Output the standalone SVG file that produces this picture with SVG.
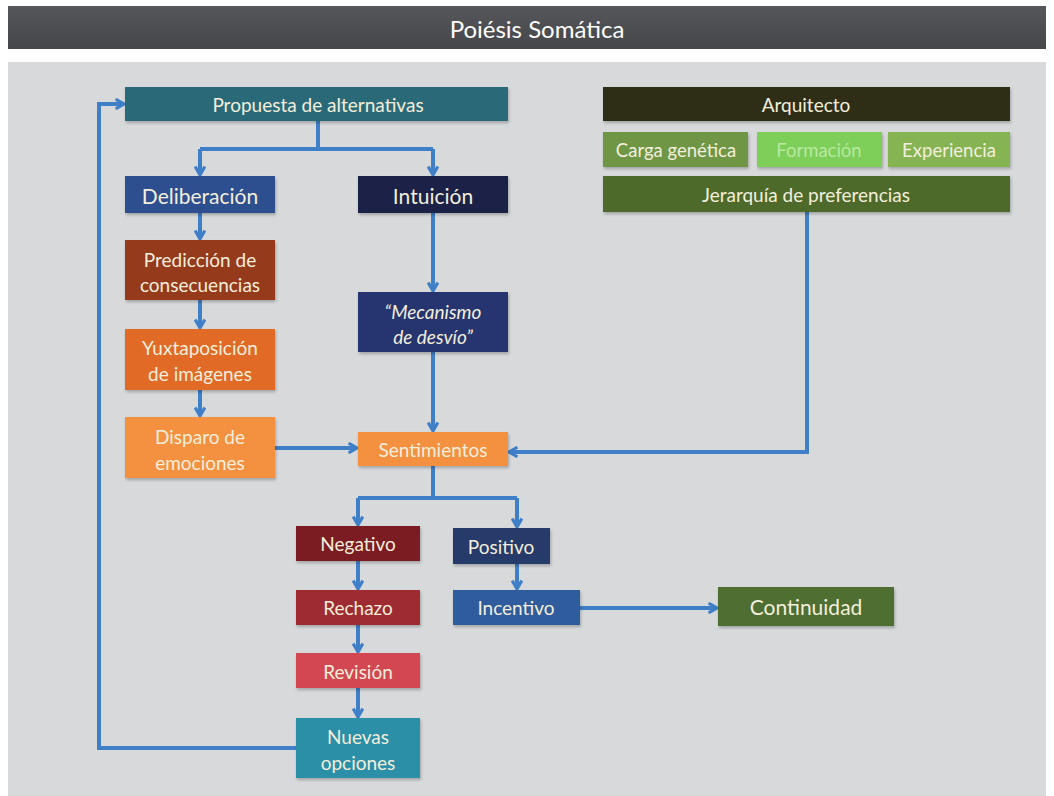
<svg xmlns="http://www.w3.org/2000/svg" width="1054" height="796" viewBox="0 0 1054 796">
<defs>
<linearGradient id="tb" x1="0" y1="0" x2="0" y2="1"><stop offset="0" stop-color="#55575b"/><stop offset="1" stop-color="#45464a"/></linearGradient>
<filter id="sh" x="-10%" y="-20%" width="130%" height="150%"><feDropShadow dx="1" dy="2" stdDeviation="1.5" flood-color="#000" flood-opacity="0.25"/></filter>
<marker id="ar" viewBox="0 0 10 10" refX="8" refY="5" markerWidth="12" markerHeight="12" markerUnits="userSpaceOnUse" orient="auto"><path d="M1,1 L8,5 L1,9" fill="none" stroke="#3f7fc8" stroke-width="2.6" stroke-linejoin="miter"/></marker>
<style>
.n rect{filter:url(#sh)}
.t{font-family:Lato,"Liberation Sans",sans-serif;font-size:19px;fill:#f3eedc;text-anchor:middle;dominant-baseline:central}
.big{font-size:21px}
.sm{font-size:18.5px}
.c path{fill:none;stroke:#3f7fc8;stroke-width:4}
.c .a{marker-end:url(#ar)}
</style>
</defs>
<rect x="0" y="0" width="1054" height="796" fill="#ffffff"/>
<rect x="8" y="6" width="1038" height="43" fill="url(#tb)"/>
<text x="537" y="28" font-family="Lato,'Liberation Sans',sans-serif" font-size="24" fill="#ffffff" text-anchor="middle" dominant-baseline="central">Poiésis Somática</text>
<rect x="8" y="62" width="1038" height="734" fill="#d7d9db"/>

<g class="c">
<path d="M318,121 V149 M200,149 H433"/>
<path class="a" d="M200,149 V175"/>
<path class="a" d="M433,149 V175"/>
<path class="a" d="M200,213 V239"/>
<path class="a" d="M200,300 V328"/>
<path class="a" d="M200,390 V416"/>
<path class="a" d="M433,213 V291"/>
<path class="a" d="M433,352 V431"/>
<path class="a" d="M275,448 H357"/>
<path class="a" d="M807,212 V452 H509"/>
<path d="M433,466 V498 M358,498 H517"/>
<path class="a" d="M358,498 V525"/>
<path class="a" d="M517,498 V527"/>
<path class="a" d="M358,561 V589"/>
<path class="a" d="M358,625 V652"/>
<path class="a" d="M358,688 V717"/>
<path class="a" d="M517,564 V589"/>
<path class="a" d="M580,608 H717"/>
<path class="a" d="M296,748 H99 V104 H124"/>
</g>

<g id="propuesta" class="n"><rect x="125" y="87" width="383" height="34" fill="#2a6b78"/><text class="t" x="318" y="104">Propuesta de alternativas</text></g>
<g id="deliberacion" class="n"><rect x="125" y="176" width="150" height="37" fill="#2f4f8f"/><text class="t big" x="200" y="195">Deliberación</text></g>
<g id="intuicion" class="n"><rect x="358" y="176" width="150" height="37" fill="#1f2347"/><text class="t big" x="433" y="195">Intuición</text></g>
<g id="prediccion" class="n"><rect x="125" y="240" width="150" height="60" fill="#953a1e"/><text class="t" x="200" y="259">Predicción de</text><text class="t" x="200" y="284">consecuencias</text></g>
<g id="yuxtaposicion" class="n"><rect x="125" y="329" width="150" height="61" fill="#e06a25"/><text class="t" x="200" y="347">Yuxtaposición</text><text class="t" x="200" y="373">de imágenes</text></g>
<g id="disparo" class="n"><rect x="125" y="417" width="150" height="61" fill="#f4913f"/><text class="t" x="200" y="436">Disparo de</text><text class="t" x="200" y="462">emociones</text></g>
<g id="mecanismo" class="n"><rect x="358" y="292" width="150" height="60" fill="#283670"/><text class="t" x="433" y="311" font-style="italic">“Mecanismo</text><text class="t" x="433" y="336" font-style="italic">de desvío”</text></g>
<g id="sentimientos" class="n"><rect x="358" y="432" width="150" height="34" fill="#f4913f"/><text class="t" x="433" y="449">Sentimientos</text></g>
<g id="negativo" class="n"><rect x="296" y="526" width="124" height="35" fill="#7a1c24"/><text class="t" x="358" y="543">Negativo</text></g>
<g id="positivo" class="n"><rect x="453" y="528" width="97" height="36" fill="#283a6b"/><text class="t" x="501" y="546">Positivo</text></g>
<g id="rechazo" class="n"><rect x="296" y="590" width="124" height="35" fill="#9e2a33"/><text class="t" x="358" y="607">Rechazo</text></g>
<g id="incentivo" class="n"><rect x="453" y="590" width="127" height="35" fill="#2e5b9c"/><text class="t" x="516" y="607">Incentivo</text></g>
<g id="revision" class="n"><rect x="296" y="653" width="124" height="35" fill="#d24751"/><text class="t" x="358" y="671">Revisión</text></g>
<g id="nuevas" class="n"><rect x="296" y="718" width="124" height="60" fill="#2a8fa7"/><text class="t" x="358" y="736">Nuevas</text><text class="t" x="358" y="762">opciones</text></g>
<g id="continuidad" class="n"><rect x="718" y="587" width="176" height="39" fill="#4f6e30"/><text class="t big" x="806" y="606">Continuidad</text></g>
<g id="arquitecto" class="n"><rect x="603" y="87" width="407" height="34" fill="#2f2f17"/><text class="t" x="806" y="104">Arquitecto</text></g>
<g id="carga" class="n"><rect x="603" y="132" width="145" height="35" fill="#6e9645"/><text class="t sm" x="676" y="150">Carga genética</text></g>
<g id="formacion" class="n"><rect x="757" y="132" width="125" height="35" fill="#7dcf5a"/><text class="t sm" x="819" y="150" style="fill:#b8e8a0">Formación</text></g>
<g id="experiencia" class="n"><rect x="888" y="132" width="122" height="35" fill="#86b452"/><text class="t sm" x="949" y="150">Experiencia</text></g>
<g id="jerarquia" class="n"><rect x="603" y="176" width="407" height="36" fill="#4d6b2c"/><text class="t" x="806" y="194">Jerarquía de preferencias</text></g>
</svg>
